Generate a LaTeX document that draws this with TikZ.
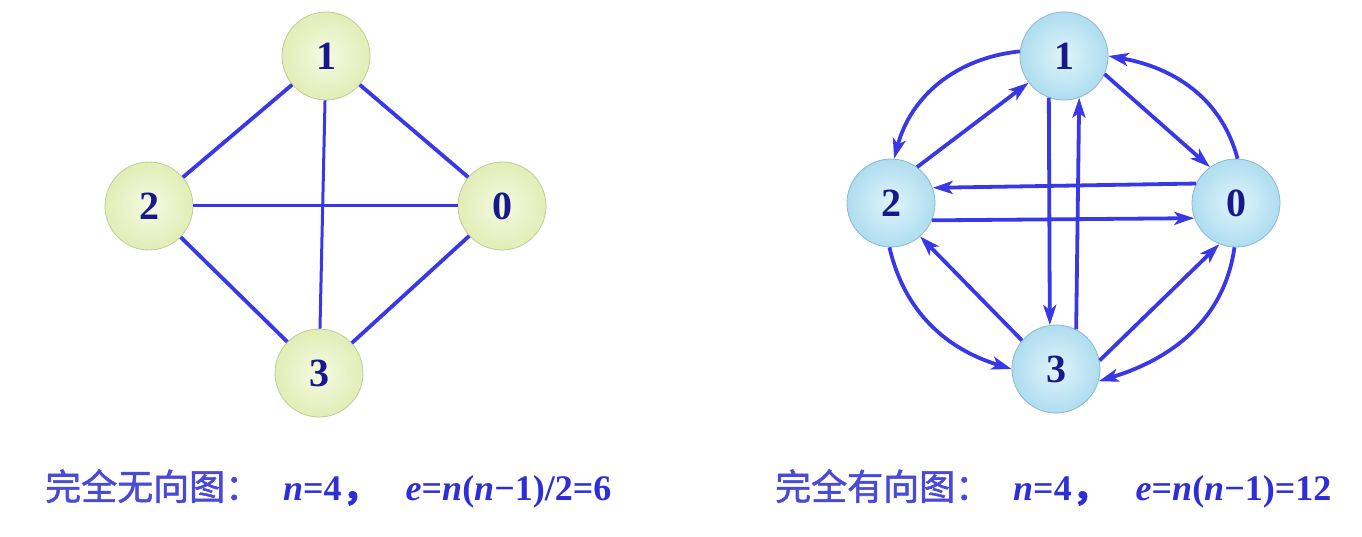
\documentclass[tikz,border=0pt]{standalone}
\usepackage{fontspec}
\setmainfont{Liberation Serif}
\newfontfamily\cjk[FakeBold=1.6]{Noto Sans CJK SC}
\usetikzlibrary{arrows.meta}
\definecolor{edgeblue}{HTML}{3838E6}
\definecolor{digitnavy}{HTML}{16188C}
\definecolor{capblue}{HTML}{4A4AD8}
\definecolor{mathblue}{HTML}{2E2ED6}
\definecolor{greenin}{HTML}{F5FAE3}
\definecolor{greenout}{HTML}{E2EDB6}
\definecolor{greenrim}{HTML}{BFCC98}
\definecolor{bluein}{HTML}{E0F4FB}
\definecolor{blueout}{HTML}{AEDDF0}
\definecolor{bluerim}{HTML}{8CB9CB}
\tikzset{
  vtx/.style={circle,minimum size=88pt,inner sep=0pt,line width=0.8pt,
    font=\fontsize{40}{40}\selectfont\bfseries,text=digitnavy},
  greenvtx/.style={vtx,draw=greenrim,inner color=greenin,outer color=greenout},
  bluevtx/.style={vtx,draw=bluerim,inner color=bluein,outer color=blueout},
  link/.style={edgeblue,line width=3.8pt},
  arc/.style={edgeblue,line width=3.8pt,-{Stealth[length=20pt,width=13pt,inset=5pt]}},
  caption/.style={anchor=base west,inner sep=0pt,text=capblue}
}
\newcommand{\cjkpart}[1]{{\cjk\fontsize{36}{36}\selectfont #1}}
\begin{document}
\begin{tikzpicture}[x=1pt,y=-1pt]
\useasboundingbox (0,0) rectangle (1362,537);

% undirected
\node[greenvtx] (l1) at (326,56) {1};
\node[greenvtx] (l2) at (149,206) {2};
\node[greenvtx] (l0) at (502,206) {0};
\node[greenvtx] (l3) at (319,373) {3};
\draw[link] (l1) -- (l2);
\draw[link] (l1) -- (l0);
\draw[link,line width=3pt] (l1) -- (l3);
\draw[link,line width=3pt] (l2) -- (l0);
\draw[link] (l2) -- (l3);
\draw[link] (l3) -- (l0);

% directed
\node[bluevtx] (r1) at (1064,56) {1};
\node[bluevtx] (r2) at (891,203) {2};
\node[bluevtx] (r0) at (1236,203) {0};
\node[bluevtx] (r3) at (1056,369) {3};

\draw[arc] (r1.174) to[out=186,in=75] (r2.86);
\draw[arc] (r2.54) -- (r1.217);
\draw[arc] (r1.336) -- (r0.126);
\draw[arc] (r0.88) to[out=105,in=350] (r1.0);
\draw[arc] (r0.154) -- (r2.20);
\draw[arc] (r2.337) -- (r0.200);
\draw[arc] (r1.250) -- (r3.98);
\draw[arc] (r3.63) -- (r1.290);
\draw[arc] (r3.140) -- (r2.311);
\draw[arc] (r3.11) -- (r0.248);
\draw[arc] (r2.268) to[out=283,in=163] (r3.180);
\draw[arc] (r0.268) to[out=262,in=17] (r3.344);

% captions
\node[caption] (capl) at (45,500) {\cjkpart{完全无向图：}\hspace{22pt}\fontsize{36}{36}\selectfont\bfseries\color{mathblue}\textit{n}=4\cjkpart{，}\hspace{28pt}\textit{e}=\textit{n}(\textit{n}−1)/2=6};
\node[caption] (capr) at (775,500) {\cjkpart{完全有向图：}\hspace{22pt}\fontsize{36}{36}\selectfont\bfseries\color{mathblue}\textit{n}=4\cjkpart{，}\hspace{28pt}\textit{e}=\textit{n}(\textit{n}−1)=12};

\end{tikzpicture}
\end{document}
